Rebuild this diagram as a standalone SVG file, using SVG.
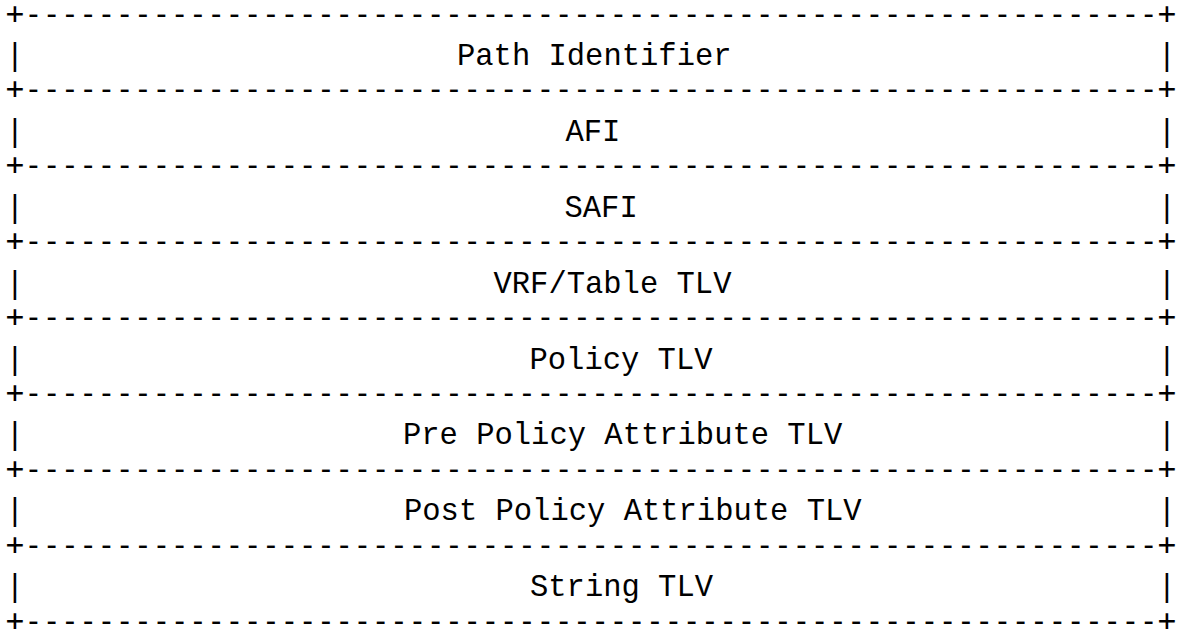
<svg xmlns="http://www.w3.org/2000/svg" width="1181" height="631" viewBox="0 0 1181 631">
  <style>
    text { font-family: "Liberation Mono", "DejaVu Sans Mono", monospace; font-size: 30.5px; fill: #000; }
    .sep { font-family: "DejaVu Sans Mono", "Liberation Mono", monospace; font-size: 30.4px; }
    .bar { text-anchor: middle; }
  </style>
  <rect width="1181" height="631" fill="#fff"/>

  <!-- horizontal separators between the fields -->
  <g id="borders">
    <text class="sep" x="5.86" y="23.5" textLength="1170.3" lengthAdjust="spacing">+--------------------------------------------------------------+</text>
    <text class="sep" x="5.86" y="99.4" textLength="1170.3" lengthAdjust="spacing">+--------------------------------------------------------------+</text>
    <text class="sep" x="5.86" y="175.3" textLength="1170.3" lengthAdjust="spacing">+--------------------------------------------------------------+</text>
    <text class="sep" x="5.86" y="251.1" textLength="1170.3" lengthAdjust="spacing">+--------------------------------------------------------------+</text>
    <text class="sep" x="5.86" y="327.0" textLength="1170.3" lengthAdjust="spacing">+--------------------------------------------------------------+</text>
    <text class="sep" x="5.86" y="402.9" textLength="1170.3" lengthAdjust="spacing">+--------------------------------------------------------------+</text>
    <text class="sep" x="5.86" y="478.8" textLength="1170.3" lengthAdjust="spacing">+--------------------------------------------------------------+</text>
    <text class="sep" x="5.86" y="554.7" textLength="1170.3" lengthAdjust="spacing">+--------------------------------------------------------------+</text>
    <text class="sep" x="5.86" y="630.5" textLength="1170.3" lengthAdjust="spacing">+--------------------------------------------------------------+</text>
  </g>

  <!-- one row per field: side bars and the field name -->
  <g id="path-identifier">
    <text class="bar" x="15" y="65">|</text>
    <text x="457" y="65">Path Identifier</text>
    <text class="bar" x="1167" y="65">|</text>
  </g>
  <g id="afi">
    <text class="bar" x="15" y="140.9">|</text>
    <text x="565.5" y="140.9">AFI</text>
    <text class="bar" x="1167" y="140.9">|</text>
  </g>
  <g id="safi">
    <text class="bar" x="15" y="216.8">|</text>
    <text x="564.5" y="216.8">SAFI</text>
    <text class="bar" x="1167" y="216.8">|</text>
  </g>
  <g id="vrf-table-tlv">
    <text class="bar" x="15" y="292.7">|</text>
    <text x="493.5" y="292.7">VRF/Table TLV</text>
    <text class="bar" x="1167" y="292.7">|</text>
  </g>
  <g id="policy-tlv">
    <text class="bar" x="15" y="368.5">|</text>
    <text x="529.5" y="368.5">Policy TLV</text>
    <text class="bar" x="1167" y="368.5">|</text>
  </g>
  <g id="pre-policy-attribute-tlv">
    <text class="bar" x="15" y="444.4">|</text>
    <text x="403" y="444.4">Pre Policy Attribute TLV</text>
    <text class="bar" x="1167" y="444.4">|</text>
  </g>
  <g id="post-policy-attribute-tlv">
    <text class="bar" x="15" y="520.3">|</text>
    <text x="404" y="520.3">Post Policy Attribute TLV</text>
    <text class="bar" x="1167" y="520.3">|</text>
  </g>
  <g id="string-tlv">
    <text class="bar" x="15" y="596.2">|</text>
    <text x="530" y="596.2">String TLV</text>
    <text class="bar" x="1167" y="596.2">|</text>
  </g>
</svg>
